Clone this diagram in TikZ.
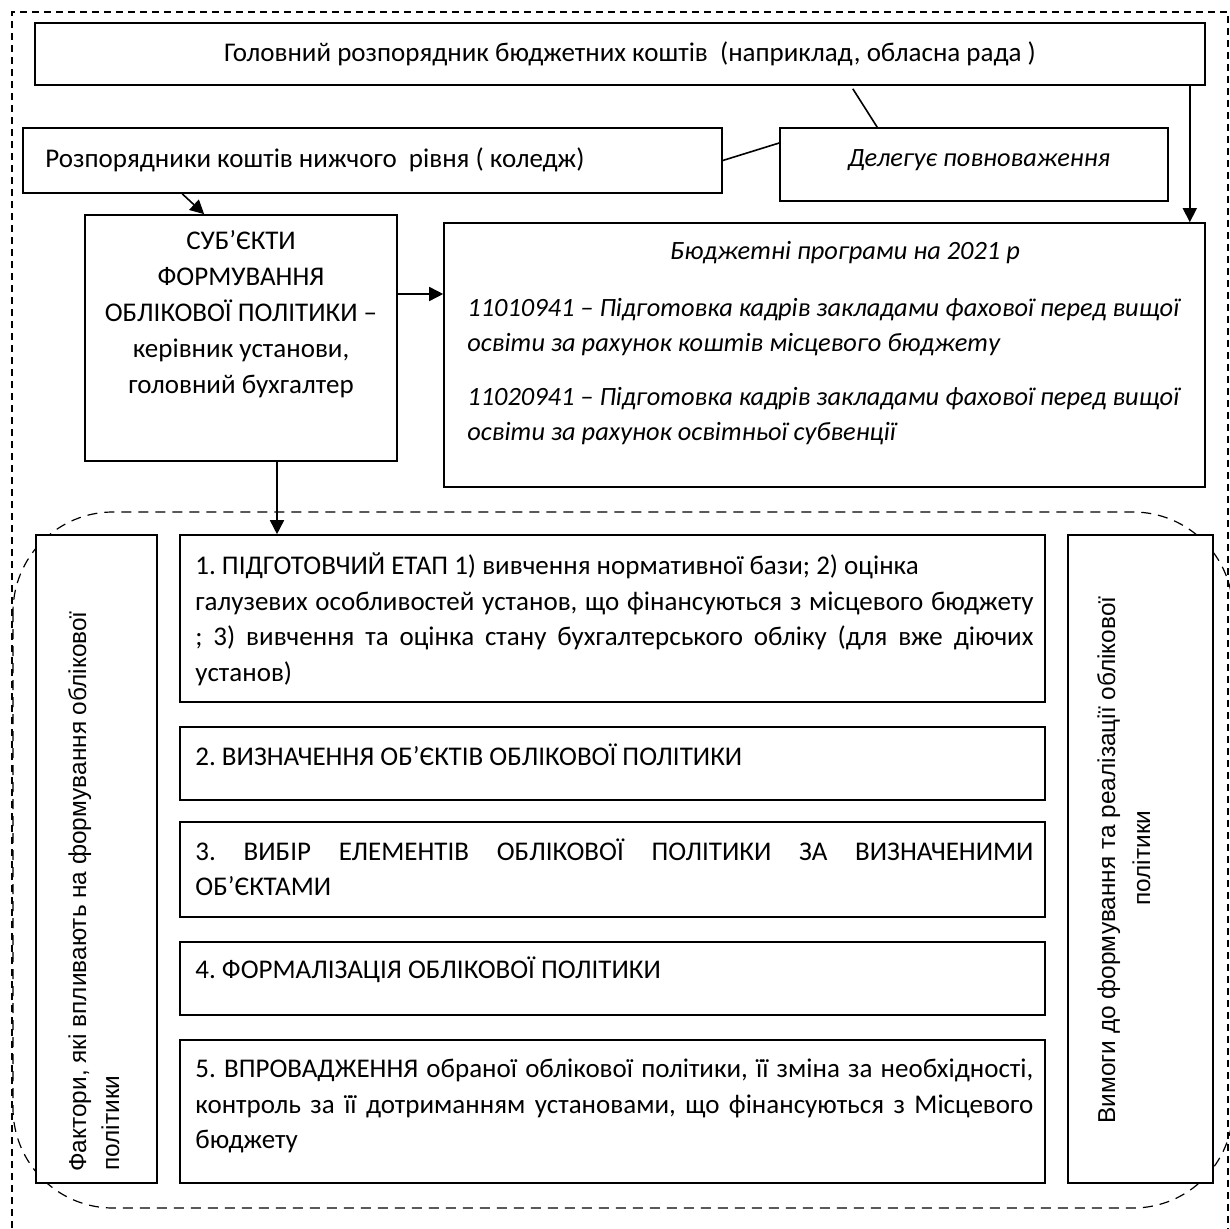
\documentclass[tikz,border=0pt]{standalone}
\usepackage{fontspec}
\setmainfont{Carlito}
\newfontfamily\arialf{Liberation Sans}
\usetikzlibrary{arrows.meta,calc}
\begin{document}
\begin{tikzpicture}[x=0.5pt,y=-0.5pt,
  box/.style={draw,line width=0.8pt,fill=white,inner sep=0pt},
  txt/.style={inner sep=0pt,font=\fontsize{13.5}{17.75}\selectfont\frenchspacing},
  itxt/.style={inner sep=0pt,font=\fontsize{13.2}{17.5}\selectfont\itshape},
  rtxt/.style={inner sep=0pt,rotate=90,font=\arialf\fontsize{12.2}{16}\selectfont},
  arr/.style={line width=0.8pt,-{Triangle[length=7pt,width=7pt]}},
  conn/.style={line width=0.8pt},
  outerframe/.style={line width=0.6pt,dash pattern=on 3.5pt off 2.5pt},
  grouprect/.style={line width=0.6pt,dash pattern=on 5pt off 3.5pt,rounded corners=50pt}]
\useasboundingbox (0,0) rectangle (1230,1229);
\clip (0,0) rectangle (1230,1229);
\draw[outerframe] (12,1240) -- (12,12) -- (1228,12) -- (1228,1240);
\draw[grouprect] (13,512) rectangle (1233,1208);

% top level
\node[box,minimum width=585pt,minimum height=31pt] (top) at (620,54) {};
\node[txt] (toptxt) at (630,54) {Головний розпорядник бюджетних коштів\ \ (наприклад, обласна рада )};
\node[box,minimum width=349.5pt,minimum height=32.5pt] (low) at (372.5,160.5) {};
\node[txt,anchor=west] (lowtxt) at (45,160) {Розпорядники коштів нижчого\ \ рівня ( коледж)};
\node[box,minimum width=194pt,minimum height=36.5pt] (deleg) at (974,164.5) {};
\node[itxt] (delegtxt) at (979,160) {Делегує повноваження};

% subjects
\node[box,minimum width=156pt,minimum height=123pt] (subj) at (241,338) {};
\node[txt,align=center,font=\fontsize{13.5}{18}\selectfont] (subjtxt) at (241,314) {СУБ’ЄКТИ\\ФОРМУВАННЯ\\ОБЛІКОВОЇ ПОЛІТИКИ –\\керівник установи,\\головний бухгалтер};

% programmes
\node[box,minimum width=380.5pt,minimum height=132pt] (prog) at (824.5,355) {};
\node[itxt] (progt) at (845,253) {Бюджетні програми на 2021 р};
\node[itxt,anchor=west,align=left] (prog1) at (467,327.5) {11010941 – Підготовка кадрів закладами фахової перед вищої\\освіти за рахунок коштів місцевого бюджету};
\node[itxt,anchor=west,align=left] (prog2) at (467,416.5) {11020941 – Підготовка кадрів закладами фахової перед вищої\\освіти за рахунок освітньої субвенції};

% side boxes
\node[box,minimum width=60.5pt,minimum height=324pt] (left) at (96.5,859) {};
\node[rtxt,anchor=base west] (lf1) at (86,1172) {Фактори, які впливають на формування облікової};
\node[rtxt,anchor=base west] (lf2) at (119,1171) {політики};
\node[box,minimum width=72.5pt,minimum height=324pt] (right) at (1140.5,859) {};
\node[rtxt,anchor=base] (rt1) at (1115,860) {Вимоги до формування та реалізації облікової};
\node[rtxt,anchor=base] (rt2) at (1150,858) {політики};

% steps
\node[box,minimum width=432.5pt,minimum height=83.5pt] (s1) at (612.5,618.5) {};
\node[txt,anchor=west,align=left] (s1t) at (195,619.5) {1. ПІДГОТОВЧИЙ ЕТАП 1) вивчення нормативної бази; 2) оцінка\\\makebox[419pt][s]{галузевих особливостей установ, що фінансуються з місцевого бюджету}\\\makebox[419pt][s]{; 3) вивчення та оцінка стану бухгалтерського обліку (для вже діючих}\\установ)};
\node[box,minimum width=432.5pt,minimum height=36.5pt] (s2) at (612.5,763.5) {};
\node[txt,anchor=west] (s2t) at (195,755) {2. ВИЗНАЧЕННЯ ОБ’ЄКТІВ ОБЛІКОВОЇ ПОЛІТИКИ};
\node[box,minimum width=432.5pt,minimum height=47.5pt] (s3) at (612.5,869.5) {};
\node[txt,anchor=west,align=left] (s3t) at (195,867.5) {\makebox[419pt][s]{3. ВИБІР ЕЛЕМЕНТІВ ОБЛІКОВОЇ ПОЛІТИКИ ЗА ВИЗНАЧЕНИМИ}\\ОБ’ЄКТАМИ};
\node[box,minimum width=432.5pt,minimum height=36.5pt] (s4) at (612.5,978.5) {};
\node[txt,anchor=west] (s4t) at (195,970) {4. ФОРМАЛІЗАЦІЯ ОБЛІКОВОЇ ПОЛІТИКИ};
\node[box,minimum width=432.5pt,minimum height=71.5pt] (s5) at (612.5,1111.5) {};
\node[txt,anchor=west,align=left] (s5t) at (195,1106) {\makebox[419pt][s]{5. ВПРОВАДЖЕННЯ обраної облікової політики, її зміна за необхідності,}\\\makebox[419pt][s]{контроль за її дотриманням установами, що фінансуються з Місцевого}\\бюджету};

% connectors
\draw[arr] ([xshift=80pt]low.south west) -- ([xshift=60pt]subj.north west);
\draw[arr] ([yshift=22pt]subj.east) -- ([yshift=22pt]subj.east -| prog.west);
\draw[arr] ([xshift=18pt]subj.south) -- ([xshift=18pt]subj.south |- s1.north);
\draw[arr] ([xshift=-8pt]top.south east) -- ([xshift=-8pt]top.south east |- prog.north);
\draw[conn] (low.east) -- ([yshift=10.75pt]deleg.west);
\draw[conn] ([xshift=-176.5pt,yshift=-1.5pt]top.south east) -- ([xshift=49pt]deleg.north west);
\end{tikzpicture}
\end{document}
